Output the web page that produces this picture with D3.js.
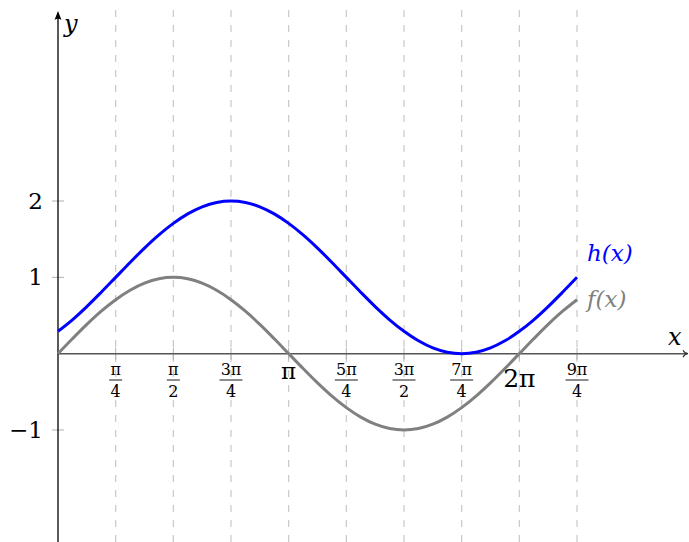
<!DOCTYPE html>
<html><head><meta charset="utf-8">
<script src="https://cdn.jsdelivr.net/npm/d3@7"></script>
<style>
html,body{margin:0;padding:0;background:#fff;}
svg{display:block;}
text{font-family:"DejaVu Serif","Liberation Serif",serif;}
</style></head>
<body><svg id="c" width="689" height="542"></svg>
<script>
// x positions in multiples of pi (step pi/16)
const xPi = [0,1/16,2/16,3/16,4/16,5/16,6/16,7/16,8/16,9/16,10/16,11/16,12/16,13/16,14/16,15/16,1,
  17/16,18/16,19/16,20/16,21/16,22/16,23/16,24/16,25/16,26/16,27/16,28/16,29/16,30/16,31/16,2,
  33/16,34/16,35/16,36/16];
const fVals = [0,0.195,0.383,0.556,0.707,0.831,0.924,0.981,1,0.981,0.924,0.831,0.707,0.556,0.383,0.195,0,
  -0.195,-0.383,-0.556,-0.707,-0.831,-0.924,-0.981,-1,-0.981,-0.924,-0.831,-0.707,-0.556,-0.383,-0.195,0,
  0.195,0.383,0.556,0.707];
const hVals = [0.293,0.444,0.617,0.805,1,1.195,1.383,1.556,1.707,1.831,1.924,1.981,2,1.981,1.924,1.831,1.707,
  1.556,1.383,1.195,1,0.805,0.617,0.444,0.293,0.169,0.076,0.019,0,0.019,0.076,0.169,0.293,
  0.444,0.617,0.805,1];
const xTickPi = [0.25,0.5,0.75,1,1.25,1.5,1.75,2,2.25];
const xTickLabels = [["π","4"],["π","2"],["3π","4"],["π",null],["5π","4"],["3π","2"],["7π","4"],["2π",null],["9π","4"]];
const yTicks = [2,1,-1];
const yTickLabels = ["2","1","−1"];
const seriesNames = ["h(x)","f(x)"];

const svg = d3.select("#c");
const x = d3.scaleLinear().domain([0, 2.25]).range([58, 577]);
const y = d3.scaleLinear().domain([-1, 2]).range([430, 201]);

// grid
svg.append("g").selectAll("line").data(xTickPi).join("line")
  .attr("x1", d=>x(d)).attr("x2", d=>x(d)).attr("y1", 10).attr("y2", 542)
  .attr("stroke", "#c8c8c8").attr("stroke-width", 1.2).attr("stroke-dasharray", "7,8");

// x tick marks
svg.append("g").selectAll("line").data(xTickPi).join("line")
  .attr("x1", d=>x(d)).attr("x2", d=>x(d)).attr("y1", y(0)-6).attr("y2", y(0)+6)
  .attr("stroke", "#b0b0b0").attr("stroke-width", 1);
// y tick marks
svg.append("g").selectAll("line").data(yTicks).join("line")
  .attr("x1", 52).attr("x2", 64).attr("y1", d=>y(d)).attr("y2", d=>y(d))
  .attr("stroke", "#b0b0b0").attr("stroke-width", 1);

// x axis
const y0 = y(0);
svg.append("line").attr("x1", 58).attr("x2", 687).attr("y1", y0).attr("y2", y0)
  .attr("stroke", "#555").attr("stroke-width", 1.5);
svg.append("path").attr("d", `M683,${y0-3.5} Q685,${y0} 688,${y0} Q685,${y0} 683,${y0+3.5}`)
  .attr("fill","none").attr("stroke","#333").attr("stroke-width",1.1);
// y axis
svg.append("line").attr("x1", 58).attr("x2", 58).attr("y1", 542).attr("y2", 13)
  .attr("stroke", "#000").attr("stroke-width", 1.3);
svg.append("path").attr("d", "M54.5,20 L58,11 L61.5,20 Q58,17.5 54.5,20Z").attr("fill","#000");

// curves
const line = d3.line().x((d,i)=>x(xPi[i])).y(d=>y(d)).curve(d3.curveCatmullRom);
svg.append("path").datum(fVals).attr("d", line).attr("fill","none")
  .attr("stroke","#808080").attr("stroke-width",3);
svg.append("path").datum(hVals).attr("d", line).attr("fill","none")
  .attr("stroke","#0000ff").attr("stroke-width",3);

// x tick labels
const tl = svg.append("g");
xTickPi.forEach((v,i)=>{
  const [num, den] = xTickLabels[i];
  const cx = x(v);
  if (den) {
    tl.append("text").attr("x", cx).attr("y", 375).attr("text-anchor","middle")
      .attr("font-size", 16).text(num);
    const w = num.length > 1 ? 23 : 13;
    tl.append("line").attr("x1", cx-w/2).attr("x2", cx+w/2).attr("y1", 380).attr("y2", 380)
      .attr("stroke","#000").attr("stroke-width",0.9);
    tl.append("text").attr("x", cx).attr("y", 397).attr("text-anchor","middle")
      .attr("font-size", 16).text(den);
  } else if (num === "π") {
    tl.append("text").attr("x", cx).attr("y", 379).attr("text-anchor","middle")
      .attr("font-size", 23).text(num);
  } else {
    tl.append("text").attr("x", cx).attr("y", 387).attr("text-anchor","middle")
      .attr("font-size", 25).text(num);
  }
});

// y tick labels
svg.append("g").selectAll("text").data(yTicks).join("text")
  .attr("x", 43).attr("y", d=>y(d)+8).attr("text-anchor","end")
  .attr("font-size", 23).text((d,i)=>yTickLabels[i]);

// axis labels
svg.append("text").attr("x", 64).attr("y", 32).attr("font-size", 24).attr("font-style","italic").text("y");
svg.append("text").attr("x", 668).attr("y", 345).attr("font-size", 24).attr("font-style","italic").text("x");

// series labels
svg.append("text").attr("x", 587).attr("y", 261).attr("font-size", 23).attr("font-style","italic")
  .attr("fill","#0000ff").text(seriesNames[0]);
svg.append("text").attr("x", 587).attr("y", 307).attr("font-size", 23).attr("font-style","italic")
  .attr("fill","#808080").text(seriesNames[1]);
</script></body></html>
